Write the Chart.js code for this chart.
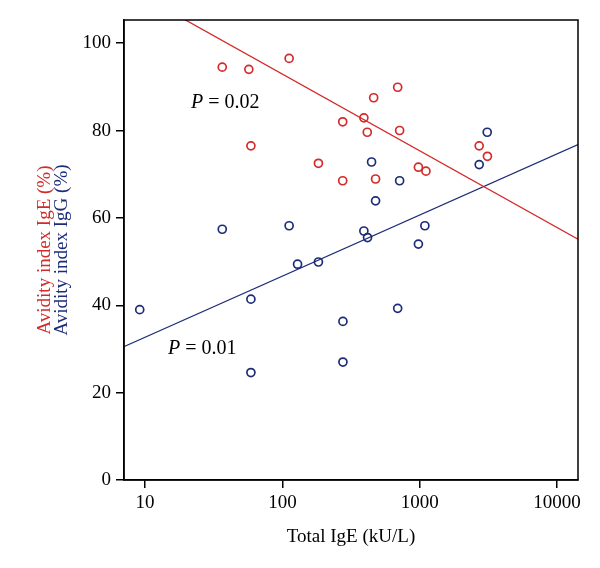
<!DOCTYPE html>
<html>
<head>
<meta charset="utf-8">
<script src="https://cdn.jsdelivr.net/npm/chart.js@4.4.1/dist/chart.umd.min.js"></script>
<style>
  html, body { margin: 0; padding: 0; background: #fff; }
  #wrap { width: 600px; height: 568px; }
</style>
</head>
<body>
<div id="wrap"><canvas id="avidez"></canvas></div>
<script>
// Total IgE (kU/L) y avidez IgE (rojo)
const igeTotalRojo = [36.5, 57, 112, 59, 183, 275, 275, 392, 415, 462, 691, 714, 477, 978, 1110, 2710, 3110];
const avidezIgE = [94.5, 94.0, 96.5, 76.5, 72.5, 68.5, 82.0, 82.9, 79.6, 87.5, 89.9, 80.0, 68.9, 71.6, 70.7, 76.5, 74.1];

// Total IgE (kU/L) y avidez IgG (azul)
const igeTotalAzul = [9.15, 36.5, 59, 59, 112, 129, 183, 276, 276, 392, 417, 446, 477, 691, 714, 978, 1090, 2710, 3100];
const avidezIgG = [39.0, 57.4, 41.4, 24.6, 58.2, 49.4, 49.9, 36.3, 27.0, 57.0, 55.5, 72.8, 63.9, 39.3, 68.5, 54.0, 58.2, 72.2, 79.6];

// rectas de regresión (extremos)
const rectaIgEx = [7, 14200];
const rectaIgEy = [113.2, 55.1];
const rectaIgGx = [7, 14200];
const rectaIgGy = [30.5, 76.8];

const ticksX = [10, 100, 1000, 10000];
const ticksY = [0, 20, 40, 60, 80, 100];

const ROJO = '#d42a2a';
const AZUL = '#1d2c78';
const FUENTE = '"Liberation Serif", "DejaVu Serif", serif';

const pares = (xs, ys) => xs.map((x, i) => ({ x: x, y: ys[i] }));

// marco, títulos del eje Y y valores P
const extras = {
    id: 'extras',
    afterDraw(chart) {
        const { ctx, chartArea: a, scales } = chart;
        ctx.save();
        ctx.strokeStyle = '#000';
        ctx.lineWidth = 1.5;
        ctx.strokeRect(a.left, a.top, a.right - a.left, a.bottom - a.top);

        // títulos verticales
        const cy = (a.top + a.bottom) / 2;
        ctx.font = '19px ' + FUENTE;
        ctx.textAlign = 'center';
        ctx.textBaseline = 'middle';
        ctx.translate(45, cy);
        ctx.rotate(-Math.PI / 2);
        ctx.fillStyle = ROJO;
        ctx.fillText('Avidity index IgE (%)', 0, 0);
        ctx.fillStyle = AZUL;
        ctx.fillText('Avidity index IgG (%)', 0, 17);
        ctx.restore();

        // P = ...
        const etiqueta = (x, y, valor) => {
            const px = scales.x.getPixelForValue(x);
            const py = scales.y.getPixelForValue(y);
            ctx.save();
            ctx.fillStyle = '#000';
            ctx.textBaseline = 'middle';
            ctx.font = 'italic 20px ' + FUENTE;
            const wP = ctx.measureText('P').width;
            ctx.font = '20px ' + FUENTE;
            const resto = ' = ' + valor;
            const total = wP + ctx.measureText(resto).width;
            let x0 = px - total / 2;
            ctx.font = 'italic 20px ' + FUENTE;
            ctx.fillText('P', x0, py);
            ctx.font = '20px ' + FUENTE;
            ctx.fillText(resto, x0 + wP, py);
            ctx.restore();
        };
        etiqueta(38.4, 86.3, '0.02');
        etiqueta(26.1, 30.0, '0.01');
    }
};

new Chart(document.getElementById('avidez'), {
    type: 'scatter',
    data: {
        datasets: [
            {
                label: 'IgE',
                data: pares(igeTotalRojo, avidezIgE),
                borderColor: ROJO,
                backgroundColor: 'rgba(0,0,0,0)',
                pointRadius: 4,
                pointBorderWidth: 1.7,
                showLine: false
            },
            {
                label: 'IgG',
                data: pares(igeTotalAzul, avidezIgG),
                borderColor: AZUL,
                backgroundColor: 'rgba(0,0,0,0)',
                pointRadius: 4,
                pointBorderWidth: 1.7,
                showLine: false
            },
            {
                label: 'recta IgE',
                data: pares(rectaIgEx, rectaIgEy),
                borderColor: ROJO,
                borderWidth: 1.3,
                pointRadius: 0,
                showLine: true
            },
            {
                label: 'recta IgG',
                data: pares(rectaIgGx, rectaIgGy),
                borderColor: AZUL,
                borderWidth: 1.3,
                pointRadius: 0,
                showLine: true
            }
        ]
    },
    options: {
        responsive: true,
        maintainAspectRatio: false,
        animation: false,
        layout: { padding: { top: 20, right: 22, left: 0, bottom: 0 } },
        plugins: {
            legend: { display: false },
            tooltip: { enabled: false }
        },
        scales: {
            x: {
                type: 'logarithmic',
                min: 7.03,
                max: 14200,
                afterBuildTicks: (s) => { s.ticks = ticksX.map(v => ({ value: v })); },
                afterFit: (s) => { s.height = 88; },
                grid: { drawOnChartArea: false, drawTicks: true, tickLength: 8, color: '#000', lineWidth: 1.5 },
                border: { display: true, color: '#000', width: 1.5 },
                ticks: {
                    color: '#000',
                    font: { family: FUENTE, size: 19 },
                    padding: 4,
                    maxRotation: 0,
                    autoSkip: false,
                    callback: (v) => String(v)
                },
                title: {
                    display: true,
                    text: 'Total IgE (kU/L)',
                    color: '#000',
                    font: { family: FUENTE, size: 19 },
                    padding: { top: 4, bottom: 20 }
                }
            },
            y: {
                min: 0,
                max: 105.3,
                afterBuildTicks: (s) => { s.ticks = ticksY.map(v => ({ value: v })); },
                afterFit: (s) => { s.width = 124; },
                grid: { drawOnChartArea: false, drawTicks: true, tickLength: 8, color: '#000', lineWidth: 1.5 },
                border: { display: true, color: '#000', width: 1.5 },
                ticks: {
                    color: '#000',
                    font: { family: FUENTE, size: 19 },
                    padding: 5
                }
            }
        }
    },
    plugins: [extras]
});
</script>
</body>
</html>
